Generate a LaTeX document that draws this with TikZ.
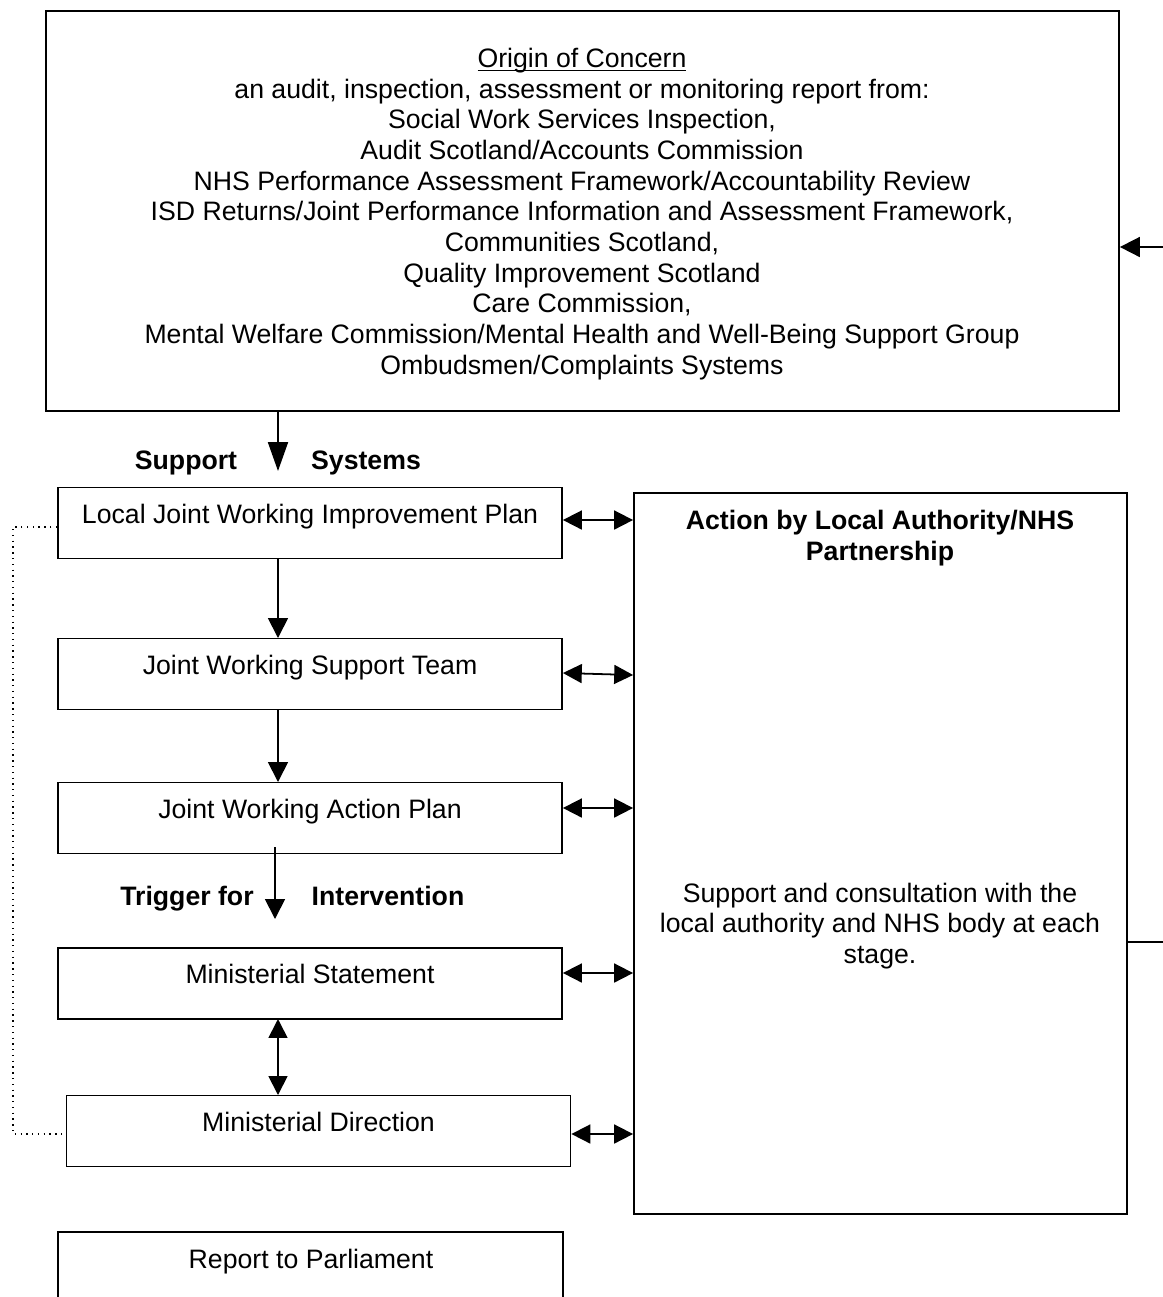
\documentclass[tikz,border=0pt]{standalone}
\usepackage{fontspec}
\setmainfont{Liberation Sans}
\usetikzlibrary{arrows.meta,fit}
\newcommand\myuline[1]{\setbox0\hbox{#1}\rlap{\rule[-1.7pt]{\wd0}{0.5pt}}\box0}
\begin{document}
\begin{tikzpicture}[x=0.45pt,y=-0.45pt,
  every node/.style={font=\fontsize{12}{13.8}\selectfont},
  ln/.style={line width=0.8pt},
  tip/.style={-{Triangle[length=9pt,width=9pt]}},
  longtip/.style={-{Triangle[length=13pt,width=9pt]}},
  dtip/.style={{Triangle[length=8.5pt,width=8.5pt]}-{Triangle[length=8.5pt,width=8.5pt]}},
  box/.style={draw,line width=0.8pt,inner xsep=0pt,inner ysep=0pt,
    minimum width=226.8pt,text height=16pt,text depth=16pt},
  bigbox/.style={draw,line width=0.8pt,inner sep=0pt},
  lbl/.style={font=\fontsize{12}{13.8}\selectfont\bfseries,inner sep=0pt,anchor=base}]
\useasboundingbox (0,0) rectangle (1163,1297);

% top box
\coordinate (tl) at (46,11);
\coordinate (br) at (1119,411);
\node[bigbox,fit=(tl)(br)] (origin) {};
\node[align=center,inner sep=0pt] (origintext) at (582,214) {\myuline{Origin of Concern}\\
an audit, inspection, assessment or monitoring report from:\\
Social Work Services Inspection,\\
Audit Scotland/Accounts Commission\\
NHS Performance Assessment Framework/Accountability Review\\
ISD Returns/Joint Performance Information and Assessment Framework,\\
Communities Scotland,\\
Quality Improvement Scotland\\
Care Commission,\\
Mental Welfare Commission/Mental Health and Well-Being Support Group\\
Ombudsmen/Complaints Systems};

% right box
\coordinate (rtl) at (634,493);
\coordinate (rbr) at (1127,1214);
\node[bigbox,fit=(rtl)(rbr)] (action) {};
\node[font=\fontsize{12}{13.8}\selectfont\bfseries,inner sep=0pt,align=center] (actiontitle) at (880,538) {Action by Local Authority/NHS\\Partnership};
\node[align=center,inner sep=0pt] (actiontext) at (880,926) {Support and consultation with the\\local authority and NHS body at each\\stage.};

% left boxes
\node[box] (ljwip) at (310,523) {Local Joint Working Improvement Plan};
\node[box] (jwst) at (310,674) {Joint Working Support Team};
\node[box] (jwap) at (310,818) {Joint Working Action Plan};
\node[box] (ms) at (310,983.5) {Ministerial Statement};
\node[box] (md) at (318.5,1131) {Ministerial Direction};

% report box (cut off at bottom)
\coordinate (rp1) at (58,1297);
\coordinate (rp2) at (58,1232);
\coordinate (rp3) at (563,1232);
\coordinate (rp4) at (563,1297);
\draw[ln] (rp1) -- (rp2) -- (rp3) -- (rp4);
\node[inner sep=0pt,anchor=base] (report) at (311,1268) {Report to Parliament};

% labels
\node[lbl] (support) at (186,469) {Support};
\node[lbl] (systems) at (366,469) {Systems};
\node[lbl] (trigger) at (187,905) {Trigger for};
\node[lbl] (interv) at (388,905) {Intervention};

% vertical arrows
\coordinate (a1s) at (278,411);
\coordinate (a1e) at (278,471);
\draw[ln,longtip] (a1s) -- (a1e);
\draw[ln,tip] (278,558.5) -- (278,638) coordinate (jwsttop);
\draw[ln,tip] (278,709.5) -- (278,782);
\coordinate (a4s) at (275,847);
\coordinate (a4e) at (275,919);
\draw[ln,tip] (a4s) -- (a4e);
\draw[ln,dtip] (278,1019) -- (278,1095);

% horizontal double arrows
\draw[ln,dtip] (ljwip.east |- 0,520) -- (action.west |- 0,520);
\draw[ln,dtip] (jwst.east |- 0,673) -- (action.west |- 0,675);
\draw[ln,dtip] (jwap.east |- 0,808) -- (action.west |- 0,808);
\draw[ln,dtip] (ms.east |- 0,973) -- (action.west |- 0,973);
\draw[ln,dtip] (md.east |- 0,1134) -- (action.west |- 0,1134);

% dotted link
\coordinate (d1) at (13,527);
\coordinate (d2) at (13,1134);
\draw[line width=0.6pt,dotted] (ljwip.west |- d1) -- (d1) -- (d2) -- (md.west |- d2);

% right stubs
\coordinate (inR) at (1163,247);
\draw[ln,tip] (inR) -- (origin.east |- inR);
\coordinate (outR) at (1163,942);
\draw[ln] (action.east |- outR) -- (outR);
\end{tikzpicture}
\end{document}
